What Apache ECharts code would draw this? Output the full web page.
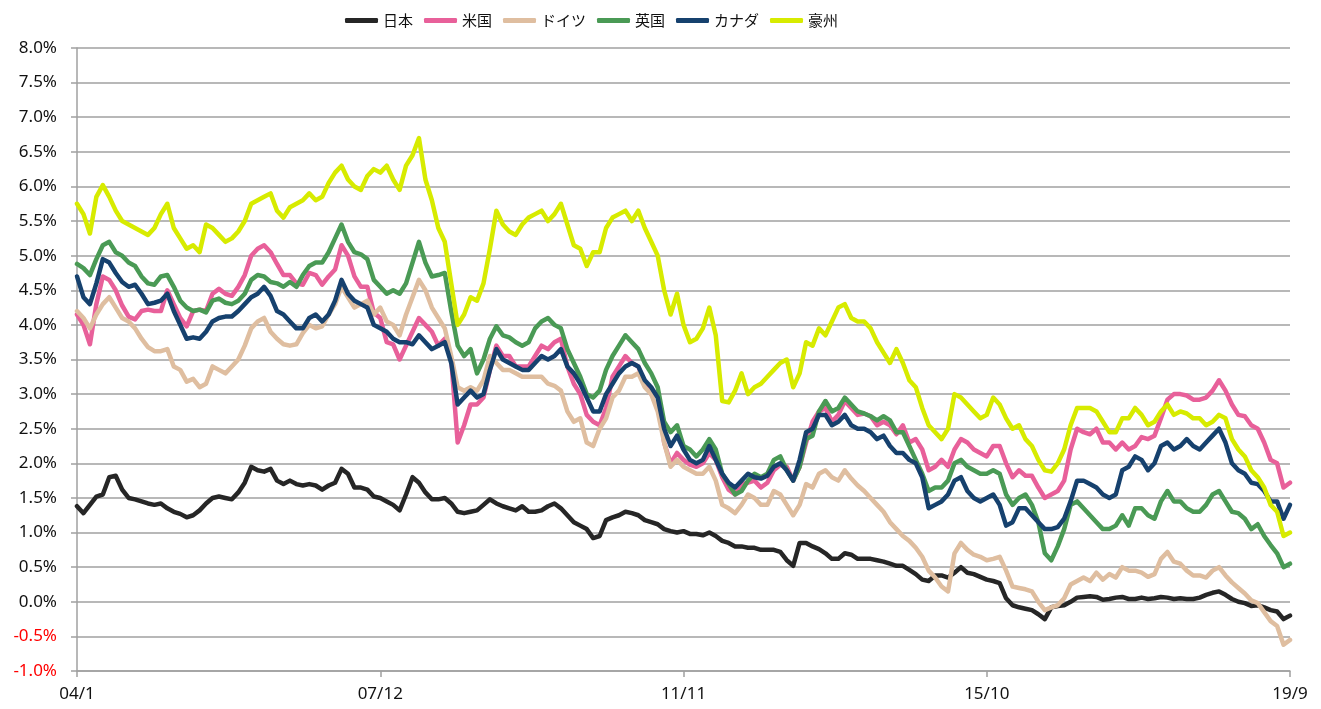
<!DOCTYPE html>
<html>
<head>
<meta charset="utf-8">
<script src="https://cdn.jsdelivr.net/npm/echarts@6/dist/echarts.min.js"></script>
<style>
html,body{margin:0;padding:0;background:#fff;}
#chart{width:1321px;height:709px;}
</style>
</head>
<body>
<div id="chart"></div>
<script>
// Monthly 10-year government bond yields (%), 2004/1 - 2019/9
const seriesNames = ['日本', '米国', 'ドイツ', '英国', 'カナダ', '豪州'];
const startYear = 2004, startMonth = 1, monthCount = 189;
const tickLabels = ['04/1', '07/12', '11/11', '15/10', '19/9'];
const yTicks = [-1.0, -0.5, 0.0, 0.5, 1.0, 1.5, 2.0, 2.5, 3.0, 3.5, 4.0, 4.5, 5.0, 5.5, 6.0, 6.5, 7.0, 7.5, 8.0];

const japan = [
1.38,1.28,1.40,1.52,1.55,1.80,1.82,1.62,1.50,1.48,1.45,1.42,
1.40,1.42,1.35,1.30,1.27,1.22,1.25,1.32,1.42,1.50,1.52,1.50,
1.48,1.58,1.72,1.95,1.90,1.88,1.92,1.75,1.70,1.75,1.70,1.68,
1.70,1.68,1.62,1.68,1.72,1.92,1.85,1.65,1.65,1.62,1.52,1.50,
1.45,1.40,1.32,1.55,1.80,1.72,1.58,1.48,1.48,1.50,1.42,1.30,
1.28,1.30,1.32,1.40,1.48,1.42,1.38,1.35,1.32,1.38,1.30,1.30,
1.32,1.38,1.42,1.35,1.25,1.15,1.10,1.05,0.92,0.95,1.18,1.22,
1.25,1.30,1.28,1.25,1.18,1.15,1.12,1.05,1.02,1.00,1.02,0.98,
0.98,0.96,1.00,0.95,0.88,0.85,0.80,0.80,0.78,0.78,0.75,0.75,
0.75,0.72,0.60,0.52,0.85,0.85,0.80,0.76,0.70,0.62,0.62,0.70,
0.68,0.62,0.62,0.62,0.60,0.58,0.55,0.52,0.52,0.46,0.40,0.32,
0.30,0.38,0.38,0.35,0.42,0.50,0.42,0.40,0.36,0.32,0.30,0.27,
0.05,-0.05,-0.08,-0.10,-0.12,-0.18,-0.25,-0.08,-0.06,-0.05,0.00,0.06,
0.07,0.08,0.07,0.03,0.04,0.06,0.07,0.04,0.04,0.06,0.04,0.05,
0.07,0.06,0.04,0.05,0.04,0.04,0.06,0.10,0.13,0.15,0.10,0.04,
0.00,-0.02,-0.06,-0.05,-0.08,-0.12,-0.14,-0.25,-0.20
];
const usa = [
4.15,4.00,3.72,4.30,4.70,4.65,4.50,4.28,4.12,4.08,4.20,4.22,
4.20,4.20,4.50,4.30,4.10,3.98,4.20,4.22,4.20,4.45,4.52,4.45,
4.42,4.55,4.72,5.00,5.10,5.15,5.05,4.88,4.72,4.72,4.60,4.58,
4.75,4.72,4.58,4.70,4.80,5.15,5.00,4.70,4.55,4.55,4.18,4.10,
3.75,3.72,3.50,3.70,3.90,4.10,4.00,3.90,3.70,3.80,3.50,2.30,
2.55,2.85,2.85,2.95,3.35,3.70,3.55,3.55,3.40,3.40,3.40,3.55,
3.70,3.65,3.75,3.80,3.40,3.15,3.00,2.70,2.60,2.55,2.80,3.25,
3.40,3.55,3.45,3.40,3.15,3.00,3.00,2.30,2.00,2.15,2.05,1.98,
1.95,2.00,2.15,2.05,1.80,1.62,1.55,1.70,1.72,1.75,1.65,1.72,
1.90,1.98,1.95,1.75,1.95,2.30,2.60,2.75,2.80,2.60,2.70,2.90,
2.80,2.70,2.72,2.68,2.55,2.60,2.55,2.42,2.55,2.30,2.35,2.20,
1.90,1.95,2.05,1.95,2.20,2.35,2.30,2.20,2.15,2.10,2.25,2.25,
2.00,1.80,1.90,1.82,1.82,1.65,1.50,1.55,1.60,1.75,2.20,2.50,
2.45,2.42,2.50,2.30,2.30,2.20,2.30,2.20,2.25,2.38,2.35,2.40,
2.65,2.92,3.00,3.00,2.98,2.92,2.92,2.95,3.05,3.20,3.05,2.85,
2.70,2.68,2.55,2.50,2.30,2.05,2.00,1.65,1.72
];
const germany = [
4.20,4.10,3.95,4.15,4.30,4.40,4.25,4.10,4.05,3.95,3.80,3.68,
3.62,3.62,3.65,3.40,3.35,3.18,3.22,3.10,3.15,3.40,3.35,3.30,
3.40,3.50,3.70,3.95,4.05,4.10,3.90,3.80,3.72,3.70,3.72,3.88,
4.00,3.95,3.98,4.15,4.30,4.55,4.40,4.25,4.30,4.35,4.15,4.25,
4.05,4.00,3.85,4.15,4.40,4.65,4.50,4.25,4.10,3.95,3.55,3.10,
3.05,3.10,3.05,3.20,3.55,3.45,3.35,3.35,3.30,3.25,3.25,3.25,
3.25,3.15,3.12,3.05,2.75,2.60,2.65,2.30,2.25,2.50,2.65,2.95,
3.05,3.25,3.25,3.30,3.10,3.00,2.75,2.30,1.95,2.05,1.95,1.90,
1.85,1.85,1.95,1.75,1.40,1.35,1.28,1.40,1.55,1.50,1.40,1.40,
1.60,1.55,1.40,1.25,1.40,1.70,1.65,1.85,1.90,1.80,1.75,1.90,
1.78,1.68,1.60,1.50,1.40,1.30,1.15,1.05,0.95,0.88,0.78,0.65,
0.45,0.35,0.22,0.15,0.70,0.85,0.75,0.68,0.65,0.60,0.62,0.65,
0.45,0.22,0.20,0.18,0.15,0.00,-0.12,-0.08,-0.05,0.05,0.25,0.30,
0.35,0.30,0.42,0.32,0.40,0.35,0.50,0.45,0.45,0.42,0.36,0.40,
0.62,0.72,0.58,0.55,0.45,0.38,0.38,0.35,0.45,0.50,0.38,0.28,
0.20,0.12,0.02,-0.02,-0.15,-0.28,-0.35,-0.62,-0.55
];
const uk = [
4.88,4.82,4.72,4.95,5.15,5.20,5.05,5.00,4.90,4.85,4.70,4.60,
4.58,4.70,4.72,4.55,4.35,4.25,4.20,4.22,4.18,4.35,4.38,4.32,
4.30,4.35,4.45,4.65,4.72,4.70,4.62,4.60,4.55,4.62,4.55,4.72,
4.85,4.90,4.90,5.05,5.25,5.45,5.20,5.05,5.02,4.95,4.65,4.55,
4.45,4.50,4.45,4.60,4.90,5.20,4.90,4.70,4.72,4.75,4.20,3.70,
3.55,3.65,3.30,3.50,3.80,3.98,3.85,3.82,3.75,3.70,3.75,3.95,
4.05,4.10,4.00,3.95,3.65,3.45,3.25,3.00,2.95,3.05,3.35,3.55,
3.70,3.85,3.75,3.65,3.45,3.30,3.10,2.60,2.45,2.55,2.25,2.20,
2.10,2.20,2.35,2.20,1.85,1.70,1.55,1.60,1.75,1.85,1.80,1.85,
2.05,2.10,1.90,1.75,1.95,2.35,2.40,2.75,2.90,2.75,2.80,2.95,
2.85,2.75,2.72,2.68,2.62,2.68,2.62,2.45,2.45,2.25,2.05,1.85,
1.60,1.65,1.65,1.75,2.00,2.05,1.95,1.90,1.85,1.85,1.90,1.85,
1.55,1.40,1.50,1.55,1.40,1.15,0.70,0.60,0.80,1.05,1.40,1.45,
1.35,1.25,1.15,1.05,1.05,1.10,1.25,1.10,1.35,1.35,1.25,1.20,
1.45,1.60,1.45,1.45,1.35,1.30,1.30,1.40,1.55,1.60,1.45,1.30,
1.28,1.20,1.05,1.12,0.95,0.82,0.70,0.50,0.55
];
const canada = [
4.70,4.40,4.30,4.60,4.95,4.90,4.75,4.62,4.55,4.58,4.45,4.30,
4.32,4.35,4.45,4.20,4.00,3.80,3.82,3.80,3.90,4.05,4.10,4.12,
4.12,4.20,4.30,4.40,4.45,4.55,4.42,4.20,4.15,4.05,3.95,3.95,
4.10,4.15,4.05,4.15,4.35,4.65,4.45,4.35,4.30,4.25,4.00,3.95,
3.90,3.80,3.75,3.75,3.72,3.85,3.75,3.65,3.70,3.75,3.45,2.85,
2.95,3.05,2.95,3.00,3.35,3.65,3.50,3.45,3.40,3.35,3.35,3.45,
3.55,3.50,3.55,3.65,3.40,3.30,3.15,2.95,2.75,2.75,3.00,3.15,
3.30,3.40,3.45,3.40,3.20,3.10,2.95,2.50,2.25,2.40,2.20,2.05,
2.00,2.05,2.25,2.05,1.85,1.72,1.65,1.75,1.85,1.80,1.78,1.82,
1.95,2.00,1.90,1.75,2.05,2.45,2.50,2.70,2.70,2.55,2.60,2.70,
2.55,2.50,2.50,2.45,2.35,2.40,2.25,2.15,2.15,2.05,2.00,1.80,
1.35,1.40,1.45,1.55,1.75,1.80,1.60,1.50,1.45,1.50,1.55,1.40,
1.10,1.15,1.35,1.35,1.25,1.15,1.05,1.05,1.08,1.20,1.45,1.75,
1.75,1.70,1.65,1.55,1.50,1.55,1.90,1.95,2.10,2.05,1.90,2.00,
2.25,2.30,2.20,2.25,2.35,2.25,2.20,2.30,2.40,2.50,2.30,2.00,
1.90,1.85,1.72,1.70,1.60,1.45,1.45,1.20,1.40
];
const australia = [
5.75,5.60,5.32,5.85,6.02,5.85,5.65,5.50,5.45,5.40,5.35,5.30,
5.40,5.60,5.75,5.40,5.25,5.10,5.15,5.05,5.45,5.40,5.30,5.20,
5.25,5.35,5.50,5.75,5.80,5.85,5.90,5.65,5.55,5.70,5.75,5.80,
5.90,5.80,5.85,6.05,6.20,6.30,6.10,6.00,5.95,6.15,6.25,6.20,
6.30,6.10,5.95,6.30,6.45,6.70,6.10,5.80,5.40,5.20,4.60,4.00,
4.15,4.40,4.35,4.60,5.10,5.65,5.45,5.35,5.30,5.45,5.55,5.60,
5.65,5.50,5.60,5.75,5.45,5.15,5.10,4.85,5.05,5.05,5.40,5.55,
5.60,5.65,5.50,5.65,5.40,5.20,5.00,4.50,4.15,4.45,4.00,3.75,
3.80,3.95,4.25,3.85,2.90,2.88,3.05,3.30,3.00,3.10,3.15,3.25,
3.35,3.45,3.50,3.10,3.30,3.75,3.70,3.95,3.85,4.05,4.25,4.30,
4.10,4.05,4.05,3.95,3.75,3.60,3.45,3.65,3.45,3.20,3.10,2.80,
2.55,2.45,2.35,2.50,3.00,2.95,2.85,2.75,2.65,2.70,2.95,2.85,
2.65,2.50,2.55,2.35,2.25,2.05,1.90,1.88,2.00,2.20,2.55,2.80,
2.80,2.80,2.75,2.60,2.45,2.45,2.65,2.65,2.80,2.70,2.55,2.60,
2.75,2.85,2.70,2.75,2.72,2.65,2.65,2.55,2.60,2.70,2.65,2.35,
2.20,2.10,1.90,1.80,1.65,1.40,1.30,0.95,1.00
];
const seriesColors = ['#262626', '#E8609A', '#DFBEA0', '#4A9A55', '#16416E', '#D7EB00'];

// build category labels "YY/M"
const categories = [];
for (let i = 0; i < monthCount; i++) {
  const m0 = startMonth - 1 + i;
  const y = startYear + Math.floor(m0 / 12);
  const m = (m0 % 12) + 1;
  categories.push(String(y % 100).padStart(2, '0') + '/' + m);
}
const allData = [japan, usa, germany, uk, canada, australia];

const chart = echarts.init(document.getElementById('chart'), null, {renderer: 'canvas'});
const option = {
  backgroundColor: '#ffffff',
  animation: false,
  legend: {
    top: 8,
    left: 340,
    itemWidth: 33,
    itemHeight: 5,
    itemGap: 11,
    icon: 'roundRect',
    textStyle: {fontFamily: 'Noto Sans CJK JP', fontSize: 15, color: '#111'},
    data: seriesNames
  },
  grid: {left: 77, right: 31, top: 48, bottom: 38, containLabel: false},
  xAxis: {
    type: 'category',
    boundaryGap: false,
    data: categories,
    axisLine: {show: true, onZero: false, lineStyle: {color: '#a0a0a0', width: 1.5}},
    axisTick: {show: true, interval: 46, length: 6, lineStyle: {color: '#a0a0a0', width: 1.5}},
    axisLabel: {
      interval: 46, margin: 15, fontFamily: 'Noto Sans', fontSize: 17, color: '#111',
      formatter: function (v) { return tickLabels.indexOf(v) >= 0 ? v : ''; }
    },
    splitLine: {show: false}
  },
  yAxis: {
    type: 'value',
    min: yTicks[0], max: yTicks[yTicks.length - 1], interval: 0.5,
    axisLine: {show: true, lineStyle: {color: '#a0a0a0', width: 1.5}},
    axisTick: {show: true, length: 6, lineStyle: {color: '#a0a0a0', width: 1.5}},
    axisLabel: {
      margin: 20, fontFamily: 'Noto Sans', fontSize: 17, color: '#111',
      formatter: function (v) {
        const s = v.toFixed(1) + '%';
        return v < 0 ? '{neg|' + s + '}' : s;
      },
      rich: {neg: {color: '#ff0000', fontFamily: 'Noto Sans', fontSize: 17}}
    },
    splitLine: {show: true, lineStyle: {color: '#a0a0a0', width: 1.5}}
  },
  series: seriesNames.map(function (name, i) {
    return {
      name: name,
      type: 'line',
      data: allData[i],
      showSymbol: false,
      symbol: 'none',
      smooth: false,
      color: seriesColors[i],
      lineStyle: {width: 4.5, color: seriesColors[i], join: 'round', cap: 'round'},
      z: 2 + i
    };
  })
};
chart.setOption(option);
</script>
</body>
</html>
